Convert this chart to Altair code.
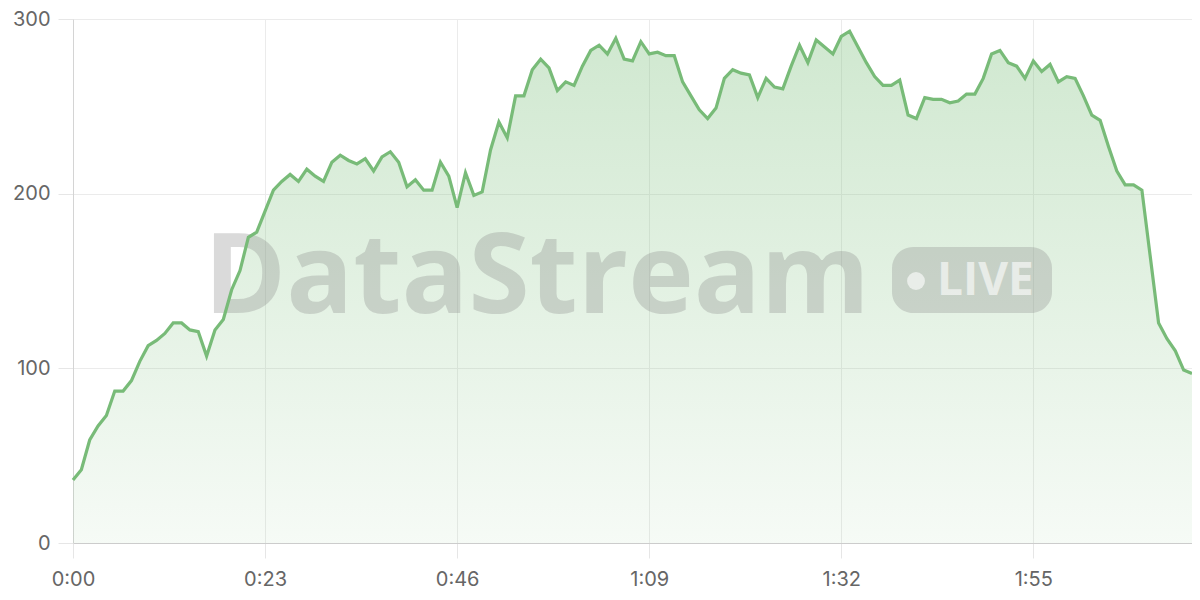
import altair as alt
import pandas as pd

# seconds since start
seconds = list(range(0, 135))
values = [
    36, 42, 59, 67, 73, 87, 87, 93, 104, 113, 116, 120, 126, 126, 122, 121, 107, 122, 128, 145,
    156, 175, 178, 190, 202, 207, 211, 207, 214, 210, 207, 218, 222, 219, 217, 220, 213, 221, 224, 218,
    204, 208, 202, 202, 218, 210, 192, 212, 199, 201, 225, 241, 232, 256, 256, 271, 277, 272, 259, 264,
    262, 273, 282, 285, 280, 289, 277, 276, 287, 280, 281, 279, 279, 264, 256, 248, 243, 249, 266, 271,
    269, 268, 255, 266, 261, 260, 273, 285, 275, 288, 284, 280, 290, 293, 284, 275, 267, 262, 262, 265,
    245, 243, 255, 254, 254, 252, 253, 257, 257, 266, 280, 282, 275, 273, 266, 276, 270, 274, 264, 267,
    266, 256, 245, 242, 227, 213, 205, 205, 202, 164, 126, 117, 110, 99, 97,
]
x_ticks = [0, 23, 46, 69, 92, 115]
y_ticks = [0, 100, 200, 300]

df = pd.DataFrame({"t": seconds, "v": values})
one = pd.DataFrame({"k": [0]})

LINE = "#78bb78"

x_enc = alt.X(
    "t:Q",
    scale=alt.Scale(domain=[0, 134], nice=False, zero=True),
    axis=alt.Axis(
        title="",
        values=x_ticks,
        labelExpr="floor(datum.value/60) + ':' + (datum.value % 60 < 10 ? '0' : '') + (datum.value % 60)",
        labelFlush=False,
        grid=True,
        gridColor="#ebebeb",
        tickColor="#e6e6e6",
        tickSize=15,
        labelPadding=11,
        domainColor="#cccccc",
        labelFont="Inter",
        labelFontSize=20,
        labelColor="#666666",
    ),
)
y_enc = alt.Y(
    "v:Q",
    scale=alt.Scale(domain=[0, 300], nice=False),
    axis=alt.Axis(
        title="",
        values=y_ticks,
        grid=True,
        gridColor="#ebebeb",
        tickColor="#e6e6e6",
        tickSize=15,
        labelPadding=8,
        domainColor="#d4d4d4",
        labelFont="Inter",
        labelFontSize=20,
        labelColor="#666666",
    ),
)

area = alt.Chart(df).mark_area(
    color=alt.Gradient(
        gradient="linear",
        stops=[
            alt.GradientStop(color="rgba(124,191,124,0.36)", offset=0),
            alt.GradientStop(color="rgba(124,191,124,0.07)", offset=1),
        ],
        x1=1, x2=1, y1=0, y2=1,
    )
).encode(x=x_enc, y=y_enc)

line = alt.Chart(df).mark_line(color=LINE, strokeWidth=3.2).encode(x="t:Q", y="v:Q")

wm_text = alt.Chart(one).mark_text(
    text="DataStream", font="Open Sans", fontWeight="bold", fontSize=111,
    align="left", baseline="alphabetic", color="#888888", opacity=0.3,
).encode(x=alt.value(131), y=alt.value(294))

pill = alt.Chart(one).mark_rect(
    cornerRadius=21, color="#888888", opacity=0.3
).encode(x=alt.value(819), x2=alt.value(979), y=alt.value(228), y2=alt.value(294))

dot = alt.Chart(one).mark_point(
    filled=True, shape="circle", size=320, color="#ffffff", opacity=0.6
).encode(x=alt.value(843), y=alt.value(262))

live = alt.Chart(one).mark_text(
    text="LIVE", font="Open Sans", fontWeight="bold", fontSize=46,
    align="left", baseline="alphabetic", color="#ffffff", opacity=0.6,
).encode(x=alt.value(864), y=alt.value(276))

chart = alt.layer(area, wm_text, pill, dot, live, line).properties(
    width=1119,
    height=524,
    autosize=alt.AutoSizeParams(type="none"),
    padding={"left": 65, "top": 11, "right": 0, "bottom": 49},
).configure_view(strokeWidth=0)

chart.save("out.html", embed_options={"renderer": "svg", "actions": False})
